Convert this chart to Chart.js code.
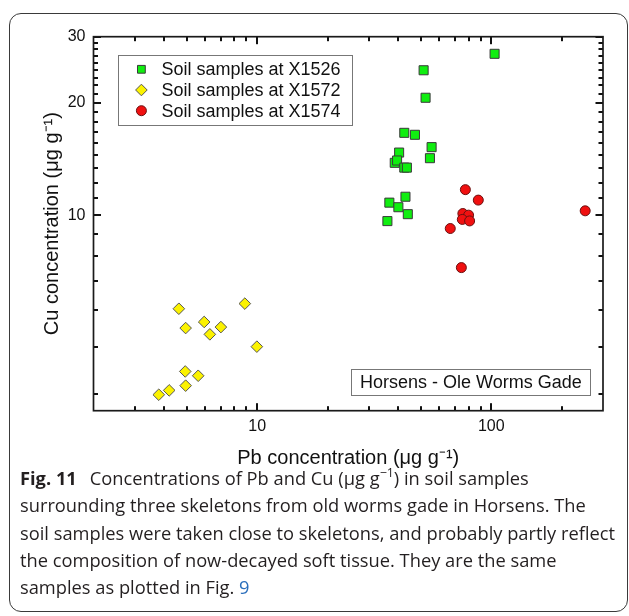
<!DOCTYPE html>
<html>
<head>
<meta charset="utf-8">
<script src="https://cdn.jsdelivr.net/npm/chart.js@4.4.1/dist/chart.umd.min.js"></script>
<style>
  html, body { margin: 0; padding: 0; background: #fff; }
  body { width: 629px; height: 616px; position: relative; overflow: hidden; }
  .frame {
    position: absolute; left: 9px; top: 13px; width: 619px; height: 599px;
    box-sizing: border-box; border: 1.5px solid #3a3a3a; border-radius: 12px;
  }
  #wrap { position: absolute; left: 0; top: 0; width: 629px; height: 475px; }
  .caption {
    position: absolute; left: 20px; top: 464px;
    font-family: "Open Sans", "Noto Sans", sans-serif; font-size: 18.3px;
    line-height: 27.3px; color: #231f20; white-space: nowrap;
  }
  .caption b { margin-right: 13px; }
  .caption sup { font-size: 0.68em; line-height: 0; position: relative; top: -0.1em; }
  .caption .ref { color: #2a6ebb; }
</style>
</head>
<body>
<div class="frame"></div>
<div id="wrap"><canvas id="chart" width="629" height="475"></canvas></div>
<div class="caption">
  <b>Fig. 11</b>Concentrations of Pb and Cu (μg g<sup>−1</sup>) in soil samples<br>
  surrounding three skeletons from old worms gade in Horsens. The<br>
  soil samples were taken close to skeletons, and probably partly reflect<br>
  the composition of now-decayed soft tissue. They are the same<br>
  samples as plotted in Fig. <span class="ref">9</span>
</div>
<script>
// Pb (x) and Cu (y) in µg/g
const seriesNames = ['Soil samples at X1526', 'Soil samples at X1572', 'Soil samples at X1574'];

const pbX1526 = [103.3, 51.4, 52.4, 42.5, 47.2, 55.6, 54.7, 40.4, 38.7, 39.6, 42.5, 43.6, 43.0, 36.7, 40.1, 44.0, 36.0];
const cuX1526 = [27.0, 24.4, 20.6, 16.6, 16.4, 15.2, 14.2, 14.7, 13.8, 14.0, 13.4, 13.4, 11.2, 10.8, 10.5, 10.06, 9.64];

const pbX1572 = [4.63, 8.86, 4.95, 5.94, 6.28, 7.00, 9.97, 4.93, 5.60, 4.95, 4.21, 3.80];
const cuX1572 = [5.62, 5.80, 4.99, 5.18, 4.80, 5.02, 4.45, 3.82, 3.72, 3.50, 3.40, 3.31];

const pbX1574 = [77.5, 88.0, 251.8, 75.6, 80.0, 75.2, 80.8, 66.8, 74.5];
const cuX1574 = [11.7, 10.97, 10.27, 10.1, 10.0, 9.74, 9.65, 9.21, 7.24];

const xMajorTicks = [10, 100];
const xMinorTicks = [3, 4, 5, 6, 7, 8, 9, 20, 30, 40, 50, 60, 70, 80, 90, 200];
const yMajorTicks = [10, 20, 30];
const yMinorTicks = [3.33, 4.44, 5.56, 6.67, 7.78, 8.89,
  11.11, 12.22, 13.33, 14.44, 15.56, 16.67, 17.78, 18.89,
  21.11, 22.22, 23.33, 24.44, 25.56, 26.67, 27.78, 28.89];

const sans = '"Liberation Sans", Arial, sans-serif';

function pairs(xs, ys) {
  return xs.map((v, i) => ({ x: v, y: ys[i] }));
}

// frame + inward tick marks on all four sides (filled rects, pixel aligned)
const frameTicks = {
  id: 'frameTicks',
  afterDatasetsDraw(chart) {
    const { ctx, chartArea: a, scales } = chart;
    const sx = scales.x, sy = scales.y;
    ctx.save();
    ctx.fillStyle = '#111';
    const xt = (v, len) => {
      const px = Math.round(sx.getPixelForValue(v)) - 1;
      ctx.fillRect(px, a.bottom - len, 2, len);
      ctx.fillRect(px, a.top, 2, len);
    };
    const yt = (v, len) => {
      const py = Math.round(sy.getPixelForValue(v)) - 1;
      ctx.fillRect(a.left, py, len, 2);
      ctx.fillRect(a.right - len, py, len, 2);
    };
    for (const v of xMajorTicks) xt(v, 7.5);
    for (const v of xMinorTicks) xt(v, 4.5);
    for (const v of yMajorTicks) yt(v, 7.5);
    for (const v of yMinorTicks) yt(v, 4.5);
    ctx.strokeStyle = '#1a1a1a';
    ctx.lineWidth = 1.7;
    ctx.strokeRect(a.left, a.top, a.width, a.height);
    ctx.restore();
  }
};

// legend box and site label, drawn inside the plot
const insetBoxes = {
  id: 'insetBoxes',
  afterDraw(chart) {
    const { ctx, chartArea: a } = chart;
    ctx.save();
    ctx.strokeStyle = '#777';
    ctx.lineWidth = 1;
    ctx.fillStyle = '#fff';

    const lx = a.left + 24.5, ly = a.top + 18.3;
    ctx.fillRect(lx, ly, 234, 70);
    ctx.strokeRect(lx + 0.5, ly + 0.5, 234, 70);
    ctx.font = '18px ' + sans;
    ctx.textBaseline = 'middle';
    chart.data.datasets.forEach((ds, i) => {
      const cy = ly + 14.3 + i * 20.7;
      ctx.fillStyle = ds.backgroundColor;
      ctx.strokeStyle = ds.borderColor;
      ctx.lineWidth = ds.borderWidth;
      Chart.helpers.drawPoint(ctx, {
        pointStyle: ds.pointStyle, radius: ds.legendRadius, borderWidth: ds.borderWidth, rotation: 0
      }, lx + 23.4, cy);
      ctx.fillStyle = '#111';
      ctx.fillText(ds.label, lx + 43.4, cy + 1);
    });

    const bx = a.left + 257.5, by = a.bottom - 41.7;
    ctx.fillStyle = '#fff';
    ctx.fillRect(bx, by, 239, 26);
    ctx.strokeStyle = '#777';
    ctx.lineWidth = 1;
    ctx.strokeRect(bx + 0.5, by + 0.5, 239, 26);
    ctx.fillStyle = '#111';
    ctx.fillText('Horsens - Ole Worms Gade', bx + 9, by + 14);
    ctx.restore();
  }
};

new Chart(document.getElementById('chart'), {
  type: 'scatter',
  data: {
    datasets: [{
      label: seriesNames[0],
      data: pairs(pbX1526, cuX1526),
      pointStyle: 'rect',
      pointRadius: 6.4,
      legendRadius: 5.5,
      backgroundColor: '#10ee10',
      borderColor: '#3a3a3a',
      borderWidth: 1
    }, {
      label: seriesNames[1],
      data: pairs(pbX1572, cuX1572),
      pointStyle: 'rectRot',
      pointRadius: 5.8,
      legendRadius: 5.8,
      backgroundColor: '#fbf200',
      borderColor: '#555',
      borderWidth: 1
    }, {
      label: seriesNames[2],
      data: pairs(pbX1574, cuX1574),
      pointStyle: 'circle',
      pointRadius: 5,
      legendRadius: 5,
      backgroundColor: '#f01010',
      borderColor: '#6a1010',
      borderWidth: 1
    }]
  },
  options: {
    responsive: false,
    animation: false,
    events: [],
    layout: { padding: { left: 30, right: 26, top: 36.7, bottom: 0 } },
    plugins: {
      legend: { display: false },
      tooltip: { enabled: false }
    },
    scales: {
      x: {
        type: 'logarithmic',
        min: 2,
        max: 300,
        afterBuildTicks: s => { s.ticks = xMajorTicks.map(v => ({ value: v })); },
        afterFit: s => { s.height = 64.3; },
        grid: { display: false, drawTicks: false },
        border: { display: false },
        ticks: {
          callback: v => String(v),
          color: '#111',
          font: { family: sans, size: 16 },
          padding: 6,
          maxRotation: 0,
          autoSkip: false
        },
        title: {
          display: true,
          text: 'Pb concentration (μg g⁻¹)',
          color: '#111',
          font: { family: sans, size: 20 },
          padding: { top: 0, bottom: 5 }
        }
      },
      y: {
        type: 'logarithmic',
        min: 3,
        max: 30,
        afterBuildTicks: s => { s.ticks = yMajorTicks.map(v => ({ value: v })); },
        afterFit: s => { s.width = 63.5; },
        grid: { display: false, drawTicks: false },
        border: { display: false },
        ticks: {
          callback: v => String(v),
          color: '#111',
          font: { family: sans, size: 16 },
          padding: 8,
          autoSkip: false
        },
        title: {
          display: true,
          text: 'Cu concentration (μg g⁻¹)',
          color: '#111',
          font: { family: sans, size: 20 },
          padding: { top: 10, bottom: 0 }
        }
      }
    }
  },
  plugins: [frameTicks, insetBoxes]
});
</script>
</body>
</html>
